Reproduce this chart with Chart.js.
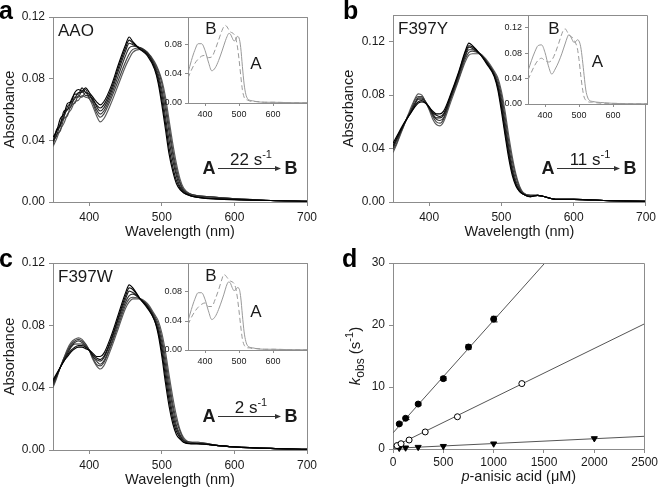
<!DOCTYPE html>
<html>
<head>
<meta charset="utf-8">
<script src="https://cdn.jsdelivr.net/npm/chart.js@4"></script>
<style>
  html, body { margin: 0; padding: 0; background: #fff; }
  #wrap { position: relative; width: 660px; height: 495px; overflow: hidden; }
  #wrap canvas { position: absolute; }
</style>
</head>
<body>
<div id="wrap"></div>
<script>
// ---- data ----
const wl = [350,355,360,365,370,375,380,385,390,395,400,405,410,415,420,430,440,450,455,460,470,480,490,495,500,505,510,515,520,525,530,540,550,575,600,650,700];

// AAO spectra, first scan -> last scan
const aao1 = [.036,.041,.047,.051,.057,.060,.065,.066,.069,.068,.067,.062,.056,.052,.054,.064,.076,.088,.093,.097,.099,.097,.091,.086,.079,.068,.053,.038,.025,.015,.009,.005,.004,.003,.002,.001,.0005];
const aao2 = [.038,.044,.046,.054,.056,.063,.064,.069,.068,.071,.067,.064,.058,.055,.057,.067,.079,.091,.096,.099,.100,.097,.090,.085,.077,.064,.049,.034,.022,.013,.008,.005,.004,.003,.002,.001,.0005];
const aao3 = [.037,.046,.049,.056,.060,.062,.068,.068,.072,.069,.069,.065,.060,.057,.059,.069,.082,.095,.100,.101,.100,.097,.089,.083,.073,.060,.045,.031,.019,.012,.007,.005,.004,.003,.002,.001,.0005];
const aao4 = [.040,.043,.051,.055,.062,.064,.067,.071,.071,.073,.068,.067,.062,.059,.061,.071,.085,.098,.103,.102,.100,.096,.088,.081,.070,.055,.040,.027,.017,.010,.007,.004,.003,.002,.002,.001,.0005];
const aao5 = [.039,.047,.050,.059,.060,.066,.070,.070,.074,.071,.070,.066,.063,.061,.063,.073,.087,.100,.105,.103,.099,.096,.087,.079,.066,.051,.035,.023,.014,.009,.006,.004,.003,.002,.0015,.001,.0005];
const aao6 = [.042,.046,.054,.057,.064,.065,.071,.073,.072,.074,.071,.068,.065,.063,.065,.075,.089,.102,.107,.104,.099,.095,.086,.077,.063,.047,.031,.020,.012,.008,.006,.004,.003,.002,.0015,.001,.0005];

// F397Y spectra
const f397y1 = [.037,.043,.050,.057,.064,.071,.077,.081,.080,.075,.069,.062,.058,.057,.060,.075,.090,.105,.110,.111,.111,.106,.098,.093,.083,.068,.050,.034,.021,.012,.007,.005,.005,.002,.002,.001,.0005];
const f397y2 = [.039,.044,.051,.057,.064,.069,.076,.079,.079,.075,.070,.064,.060,.059,.062,.077,.091,.107,.112,.113,.111,.105,.097,.091,.080,.064,.046,.031,.019,.011,.007,.005,.005,.002,.002,.001,.0005];
const f397y3 = [.040,.046,.052,.058,.063,.069,.074,.078,.078,.075,.070,.065,.062,.061,.063,.078,.093,.109,.114,.114,.111,.105,.096,.089,.077,.060,.042,.027,.016,.010,.006,.005,.005,.002,.002,.001,.0005];
const f397y4 = [.041,.047,.052,.058,.063,.068,.073,.077,.077,.075,.071,.066,.063,.063,.065,.079,.094,.110,.116,.115,.111,.104,.095,.087,.074,.056,.039,.024,.014,.009,.006,.004,.005,.002,.002,.001,.0005];
const f397y5 = [.042,.048,.053,.058,.063,.067,.072,.075,.076,.074,.071,.067,.065,.064,.066,.080,.095,.112,.117,.116,.111,.104,.095,.086,.071,.053,.036,.022,.013,.008,.006,.004,.005,.002,.002,.001,.0005];
const f397y6 = [.044,.049,.054,.059,.063,.067,.071,.074,.075,.074,.071,.068,.066,.066,.068,.081,.096,.113,.119,.117,.111,.103,.094,.084,.068,.050,.033,.020,.012,.008,.006,.004,.005,.002,.002,.001,.0005];

// F397W spectra
const f397w1 = [.040,.046,.053,.059,.065,.069,.071,.072,.071,.068,.064,.058,.054,.052,.054,.065,.078,.091,.095,.097,.097,.094,.087,.083,.075,.063,.048,.034,.022,.013,.008,.005,.005,.003,.002,.001,.0005];
const f397w2 = [.041,.047,.053,.059,.064,.068,.070,.071,.070,.068,.064,.059,.055,.054,.056,.067,.080,.093,.097,.098,.097,.093,.086,.081,.072,.059,.044,.030,.019,.012,.007,.005,.005,.003,.002,.001,.0005];
const f397w3 = [.042,.047,.053,.058,.063,.067,.069,.070,.069,.067,.064,.060,.057,.055,.057,.068,.082,.095,.099,.100,.097,.093,.085,.079,.069,.055,.040,.027,.016,.010,.006,.005,.004,.003,.002,.001,.0005];
const f397w4 = [.043,.048,.053,.058,.062,.066,.068,.068,.068,.066,.064,.060,.058,.057,.059,.070,.084,.097,.102,.101,.097,.092,.084,.077,.066,.051,.036,.023,.014,.009,.006,.004,.004,.003,.002,.001,.0005];
const f397w5 = [.044,.048,.053,.057,.061,.064,.066,.067,.067,.066,.064,.061,.059,.058,.060,.071,.085,.099,.104,.103,.097,.092,.083,.076,.063,.047,.032,.020,.012,.008,.005,.004,.004,.003,.002,.001,.0005];
const f397w6 = [.045,.049,.053,.057,.060,.063,.065,.066,.066,.065,.064,.062,.060,.060,.062,.073,.087,.101,.106,.104,.097,.091,.083,.074,.060,.043,.028,.017,.010,.007,.005,.004,.004,.003,.002,.001,.0005];

// insets: species A (solid) and B (dashed)
const wlInset = [350,360,370,380,390,400,410,420,430,440,450,455,460,465,470,475,480,485,490,495,500,505,510,515,520,525,530,540,550,575,600,650,700];
const insetAAO_A = [.041,.058,.072,.081,.081,.072,.056,.044,.048,.058,.071,.078,.085,.091,.095,.094,.089,.085,.086,.091,.089,.076,.050,.026,.012,.006,.004,.003,.002,.001,.001,.0005,.0003];
const insetAAO_B = [.034,.045,.054,.060,.064,.065,.062,.063,.073,.086,.099,.104,.106,.104,.100,.097,.096,.094,.089,.078,.060,.038,.018,.008,.005,.004,.003,.002,.002,.001,.001,.0005,.0003];
const insetF397Y_A = [.052,.068,.082,.092,.093,.081,.060,.047,.055,.066,.080,.088,.096,.104,.109,.107,.101,.097,.098,.101,.099,.090,.070,.045,.022,.011,.006,.004,.003,.002,.001,.0005,.0003];
const insetF397Y_B = [.038,.050,.061,.069,.072,.068,.066,.069,.080,.095,.111,.117,.118,.114,.109,.106,.105,.101,.096,.088,.070,.046,.025,.011,.006,.004,.003,.003,.002,.001,.001,.0005,.0003];
const insetF397W_A = [.040,.056,.070,.079,.079,.070,.054,.042,.046,.056,.069,.076,.084,.091,.094,.092,.086,.082,.083,.086,.085,.073,.048,.025,.012,.006,.004,.003,.002,.001,.001,.0005,.0003];
const insetF397W_B = [.035,.045,.053,.059,.063,.065,.060,.060,.070,.083,.098,.104,.103,.100,.097,.095,.094,.092,.086,.073,.054,.033,.015,.007,.004,.003,.003,.002,.002,.001,.001,.0005,.0003];

// panel d: k_obs vs p-anisic acid
const concAAO = [62, 125, 250, 500, 750, 1000];
const kAAO = [4.05, 4.95, 7.25, 11.35, 16.45, 20.95];
const errAAO = [0.15, 0.2, 0.2, 0.3, 0.35, 0.45];
const concF397Y = [40, 80, 160, 320, 640, 1280];
const kF397Y = [0.55, 0.85, 1.45, 2.75, 5.2, 10.55];
const concF397W = [62, 125, 250, 500, 1000, 2000];
const kF397W = [0.15, 0.2, 0.3, 0.45, 0.85, 1.7];
const fitX = [0, 2500];
const fitAAO = [2.6, 48.0];
const fitF397Y = [0.3, 20.2];
const fitF397W = [0.1, 2.05];

// ---- look ----
const FONT = 'Arial, "Liberation Sans", Helvetica, sans-serif';
const GREY = '#8c8c8c';
const TXT = '#1a1a1a';
const shades = ['#5a5a5a', '#444444', '#333333', '#222222', '#111111', '#000000'];
const al = p => Math.round(p - 0.5) + 0.5;

function addCanvas(box) {
  const c = document.createElement('canvas');
  c.width = box.w; c.height = box.h;
  c.style.left = box.x + 'px'; c.style.top = box.y + 'px';
  c.style.width = box.w + 'px'; c.style.height = box.h + 'px';
  document.getElementById('wrap').appendChild(c);
  return c;
}

// turn a wanted plot rectangle (page px) into padding + fixed axis sizes
function fitArea(box, area) {
  return {
    padding: { top: area.top - box.y, right: box.x + box.w - area.right, left: 0, bottom: 0 },
    yWidth: area.left - box.x,
    xHeight: box.y + box.h - area.bottom
  };
}

function makeAxis(isX, size, o) {
  return {
    type: 'linear', min: o.min, max: o.max,
    afterFit: s => { if (isX) s.height = size; else s.width = size; },
    afterBuildTicks: s => { s.ticks = o.ticks.map(v => ({ value: v })); },
    grid: { drawOnChartArea: false, drawTicks: true, tickLength: o.tick, color: GREY, lineWidth: 1 },
    border: { display: true, color: GREY, width: 1 },
    ticks: {
      autoSkip: false, maxRotation: 0, padding: o.pad, color: TXT,
      font: { family: FONT, size: o.fs }, callback: o.fmt
    },
    title: o.title
      ? { display: true, text: o.title, color: TXT, font: { family: FONT, size: 14.5 }, padding: o.titlePad }
      : { display: false }
  };
}

function baseOptions(L, xAxis, yAxis) {
  return {
    responsive: false, animation: false, events: [],
    layout: { padding: L.padding },
    plugins: { legend: { display: false }, tooltip: { enabled: false } },
    scales: { x: xAxis, y: yAxis }
  };
}

function frame(ctx, a) {
  ctx.strokeStyle = GREY; ctx.lineWidth = 1;
  ctx.beginPath();
  ctx.moveTo(al(a.left), al(a.top));
  ctx.lineTo(al(a.right), al(a.top));
  ctx.lineTo(al(a.right), al(a.bottom));
  ctx.stroke();
}

function drawRich(ctx, parts, x, y) {
  let cx = x;
  for (const p of parts) {
    ctx.font = p.font;
    ctx.fillText(p.t, cx, y + (p.dy || 0));
    cx += ctx.measureText(p.t).width;
  }
}
function richWidth(ctx, parts) {
  let w = 0;
  for (const p of parts) { ctx.font = p.font; w += ctx.measureText(p.t).width; }
  return w;
}

function drawReaction(ctx, a, rate) {
  const y = a.bottom - 33.5;
  ctx.fillStyle = TXT;
  ctx.font = `bold 18px ${FONT}`;
  ctx.textAlign = 'center'; ctx.textBaseline = 'middle';
  ctx.fillText('A', a.right - 98, y + 1);
  ctx.fillText('B', a.right - 16, y + 1);
  // arrow
  const x1 = a.right - 89, x2 = a.right - 26;
  ctx.strokeStyle = '#333'; ctx.lineWidth = 1;
  ctx.beginPath(); ctx.moveTo(x1, al(y)); ctx.lineTo(x2 - 4, al(y)); ctx.stroke();
  ctx.beginPath(); ctx.moveTo(x2, al(y)); ctx.lineTo(x2 - 6, al(y) - 2.5); ctx.lineTo(x2 - 6, al(y) + 2.5);
  ctx.closePath(); ctx.fillStyle = '#333'; ctx.fill();
  // rate text with superscript
  ctx.fillStyle = TXT; ctx.textAlign = 'left'; ctx.textBaseline = 'alphabetic';
  const parts = [{ t: rate + ' s', font: `17px ${FONT}` }, { t: '-1', font: `11px ${FONT}`, dy: -7 }];
  const w = richWidth(ctx, parts);
  drawRich(ctx, parts, a.right - 56 - w / 2, a.bottom - 37.5);
}

function mainDecor(cfg) {
  return {
    id: 'mainDecor',
    afterDraw(chart) {
      const ctx = chart.ctx, a = chart.chartArea;
      ctx.save();
      frame(ctx, a);
      ctx.fillStyle = '#000'; ctx.textAlign = 'left'; ctx.textBaseline = 'alphabetic';
      ctx.font = `bold 25px ${FONT}`;
      ctx.fillText(cfg.letter, cfg.lx, 19);
      if (cfg.name) {
        ctx.fillStyle = TXT; ctx.font = `17px ${FONT}`;
        ctx.fillText(cfg.name, a.left + 5, a.top + 19);
      }
      if (cfg.rate) drawReaction(ctx, a, cfg.rate);
      ctx.restore();
    }
  };
}

function insetDecor(cfg) {
  return {
    id: 'insetDecor',
    beforeDraw(chart) {
      const ctx = chart.ctx, a = chart.chartArea;
      ctx.save(); ctx.fillStyle = '#fff';
      ctx.fillRect(a.left, a.top, a.right - a.left, a.bottom - a.top);
      ctx.restore();
    },
    afterDraw(chart) {
      const ctx = chart.ctx, a = chart.chartArea;
      ctx.save();
      frame(ctx, a);
      ctx.fillStyle = TXT; ctx.font = `17px ${FONT}`;
      ctx.textAlign = 'center'; ctx.textBaseline = 'middle';
      ctx.fillText('B', a.left + cfg.b[0], a.top + cfg.b[1]);
      ctx.fillText('A', a.left + cfg.a[0], a.top + cfg.a[1]);
      ctx.restore();
    }
  };
}

function spectraSets(curves) {
  return curves.map((ys, i) => ({
    data: wl.map((x, j) => ({ x, y: ys[j] })),
    borderColor: shades[i], borderWidth: 1.15, pointRadius: 0,
    cubicInterpolationMode: 'monotone', fill: false
  })).reverse();
}

function spectrumChart(box, area, o) {
  const L = fitArea(box, area);
  const xAxis = makeAxis(true, L.xHeight, {
    min: 350, max: 700, ticks: [400, 500, 600, 700], tick: 4, pad: 4, fs: 12,
    fmt: v => String(v), title: 'Wavelength (nm)', titlePad: { top: 0, bottom: o.xtPad }
  });
  const yAxis = makeAxis(false, L.yWidth, {
    min: 0, max: o.ymax, ticks: o.yticks, tick: 4, pad: 4, fs: 12,
    fmt: v => v.toFixed(2), title: 'Absorbance', titlePad: { top: o.ytPad, bottom: 0 }
  });
  return new Chart(addCanvas(box), {
    type: 'line',
    data: { datasets: spectraSets(o.curves) },
    options: baseOptions(L, xAxis, yAxis),
    plugins: [mainDecor(o.decor)]
  });
}

function insetChart(box, area, o) {
  const L = fitArea(box, area);
  const xAxis = makeAxis(true, L.xHeight, {
    min: 350, max: 700, ticks: [400, 500, 600], tick: 3, pad: 3, fs: 9, fmt: v => String(v)
  });
  const yAxis = makeAxis(false, L.yWidth, {
    min: 0, max: o.ymax, ticks: o.yticks, tick: 3, pad: 3, fs: 9, fmt: v => v.toFixed(2)
  });
  const line = (ys, dash) => ({
    data: wlInset.map((x, j) => ({ x, y: ys[j] })),
    borderColor: '#9a9a9a', borderWidth: 1, borderDash: dash, pointRadius: 0,
    cubicInterpolationMode: 'monotone', fill: false
  });
  return new Chart(addCanvas(box), {
    type: 'line',
    data: { datasets: [line(o.A, []), line(o.B, [5, 3])] },
    options: baseOptions(L, xAxis, yAxis),
    plugins: [insetDecor(o.labels)]
  });
}

// ---- panels a, b, c ----
spectrumChart({ x: 0, y: 0, w: 330, h: 248 }, { left: 53, top: 17, right: 307, bottom: 202 }, {
  curves: [aao1, aao2, aao3, aao4, aao5, aao6], ymax: 0.12, yticks: [0, 0.04, 0.08, 0.12],
  xtPad: 7.3, ytPad: 1.3, decor: { letter: 'a', lx: -1, name: 'AAO', rate: '22' }
});
spectrumChart({ x: 330, y: 0, w: 330, h: 248 }, { left: 393, top: 15, right: 647, bottom: 202 }, {
  curves: [f397y1, f397y2, f397y3, f397y4, f397y5, f397y6], ymax: 0.14, yticks: [0, 0.04, 0.08, 0.12],
  xtPad: 7.3, ytPad: 10.3, decor: { letter: 'b', lx: 13, name: 'F397Y', rate: '11' }
});
spectrumChart({ x: 0, y: 248, w: 330, h: 247 }, { left: 53, top: 263, right: 307, bottom: 450 }, {
  curves: [f397w1, f397w2, f397w3, f397w4, f397w5, f397w6], ymax: 0.12, yticks: [0, 0.04, 0.08, 0.12],
  xtPad: 6.3, ytPad: 1.3, decor: { letter: 'c', lx: -1, name: 'F397W', rate: '2' }
});

// ---- insets ----
insetChart({ x: 150, y: 5, w: 170, h: 120 }, { left: 188, top: 17, right: 307, bottom: 103 }, {
  A: insetAAO_A, B: insetAAO_B, ymax: 0.1175, yticks: [0, 0.04, 0.08],
  labels: { b: [23, 12], a: [68, 47] }
});
insetChart({ x: 490, y: 3, w: 170, h: 120 }, { left: 528, top: 15, right: 647, bottom: 104 }, {
  A: insetF397Y_A, B: insetF397Y_B, ymax: 0.14, yticks: [0, 0.04, 0.08, 0.12],
  labels: { b: [26, 14], a: [69.5, 47.5] }
});
insetChart({ x: 150, y: 251, w: 170, h: 120 }, { left: 188, top: 263, right: 307, bottom: 350 }, {
  A: insetF397W_A, B: insetF397W_B, ymax: 0.12, yticks: [0, 0.04, 0.08],
  labels: { b: [23, 13], a: [68, 49] }
});

// ---- panel d ----
(function () {
  const box = { x: 330, y: 248, w: 330, h: 247 };
  const L = fitArea(box, { left: 393, top: 263, right: 647, bottom: 449 });
  const xAxis = makeAxis(true, L.xHeight, {
    min: 0, max: 2500, ticks: [0, 500, 1000, 1500, 2000, 2500], tick: 4, pad: 2, fs: 12, fmt: v => String(v)
  });
  const yAxis = makeAxis(false, L.yWidth, {
    min: 0, max: 30, ticks: [0, 10, 20, 30], tick: 4, pad: 4, fs: 12, fmt: v => String(v)
  });
  const pts = (xs, ys, style) => Object.assign({
    data: xs.map((x, i) => ({ x, y: ys[i] })),
    showLine: false, clip: false, pointRadius: 3, pointBorderWidth: 1,
    pointBorderColor: '#000', pointBackgroundColor: '#000'
  }, style);
  const fit = ys => ({
    data: fitX.map((x, i) => ({ x, y: ys[i] })),
    showLine: true, pointRadius: 0, borderColor: '#555', borderWidth: 1, fill: false
  });
  const decor = {
    id: 'dDecor',
    beforeDatasetsDraw(chart) {
      const ctx = chart.ctx, xs = chart.scales.x, ys = chart.scales.y;
      ctx.save(); ctx.strokeStyle = '#000'; ctx.lineWidth = 1;
      concAAO.forEach((c, i) => {
        const px = Math.round(xs.getPixelForValue(c)) + 0.5;
        const y1 = ys.getPixelForValue(kAAO[i] - errAAO[i]);
        const y2 = ys.getPixelForValue(kAAO[i] + errAAO[i]);
        ctx.beginPath();
        ctx.moveTo(px, y1); ctx.lineTo(px, y2);
        ctx.moveTo(px - 3, y1); ctx.lineTo(px + 3, y1);
        ctx.moveTo(px - 3, y2); ctx.lineTo(px + 3, y2);
        ctx.stroke();
      });
      ctx.restore();
    },
    afterDraw(chart) {
      const ctx = chart.ctx, a = chart.chartArea;
      ctx.save();
      frame(ctx, a);
      ctx.fillStyle = '#000'; ctx.textAlign = 'left'; ctx.textBaseline = 'alphabetic';
      ctx.font = `bold 25px ${FONT}`;
      ctx.fillText('d', 12, 19);
      ctx.fillStyle = TXT;
      // x title
      const xp = [{ t: 'p', font: `italic 14.5px ${FONT}` }, { t: '-anisic acid (\u03bcM)', font: `14.5px ${FONT}` }];
      const xw = richWidth(ctx, xp);
      drawRich(ctx, xp, (a.left + a.right) / 2 - xw / 2, a.bottom + 32);
      // y title, rotated
      const yp = [
        { t: 'k', font: `italic 15px ${FONT}` },
        { t: 'obs', font: `12px ${FONT}`, dy: 4 },
        { t: ' (s', font: `15px ${FONT}` },
        { t: '-1', font: `11px ${FONT}`, dy: -7 },
        { t: ')', font: `15px ${FONT}` }
      ];
      const yw = richWidth(ctx, yp);
      ctx.translate(a.left - 38, (a.top + a.bottom) / 2);
      ctx.rotate(-Math.PI / 2);
      drawRich(ctx, yp, -yw / 2, 5);
      ctx.restore();
    }
  };
  new Chart(addCanvas(box), {
    type: 'scatter',
    data: {
      datasets: [
        pts(concAAO, kAAO, {}),
        pts(concF397Y, kF397Y, { pointBackgroundColor: '#fff' }),
        pts(concF397W, kF397W, { pointStyle: 'triangle', rotation: 180, pointRadius: 3.5 }),
        fit(fitAAO), fit(fitF397Y), fit(fitF397W)
      ]
    },
    options: baseOptions(L, xAxis, yAxis),
    plugins: [decor]
  });
})();
</script>
</body>
</html>
